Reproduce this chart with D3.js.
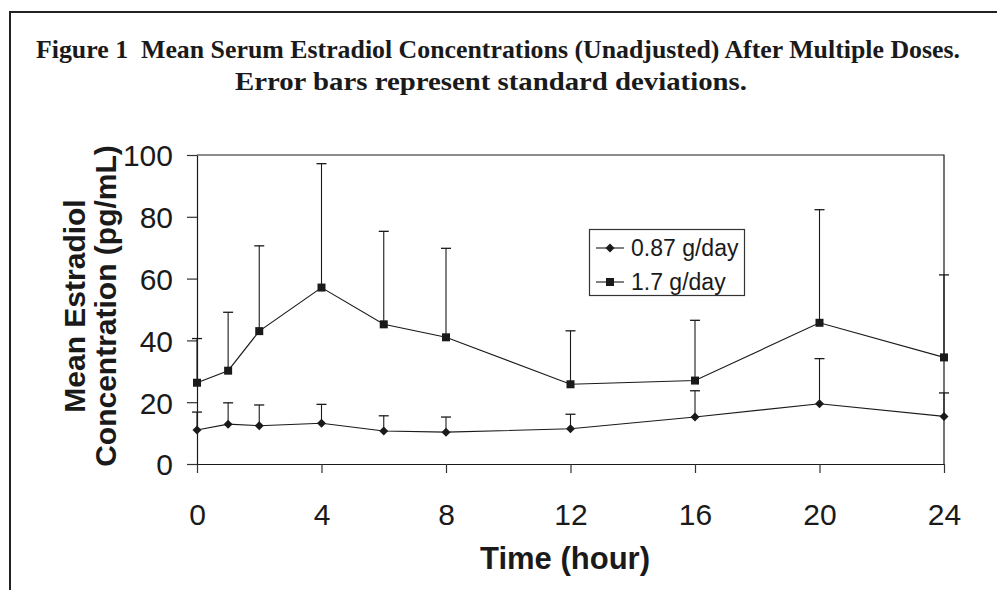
<!DOCTYPE html>
<html>
<head>
<meta charset="utf-8">
<script src="https://cdn.jsdelivr.net/npm/d3@7"></script>
<style>
  html, body { margin: 0; padding: 0; background: #fff; }
  svg { display: block; }
</style>
</head>
<body>
<svg id="chart" width="997" height="590"></svg>
<script>
// ---- data ----
const titleLines = [
  "Figure 1\u00a0 Mean Serum Estradiol Concentrations (Unadjusted) After Multiple Doses.",
  "Error bars represent standard deviations."
];
const times = [0, 1, 2, 4, 6, 8, 12, 16, 20, 24];
const seriesNames = ["0.87 g/day", "1.7 g/day"];
const meanLow  = [11.0, 12.9, 12.4, 13.2, 10.7, 10.3, 11.4, 15.2, 19.5, 15.4];
const sdLow    = [5.8, 6.9, 6.7, 6.1, 4.9, 4.9, 4.7, 8.5, 14.6, 7.6];
const meanHigh = [26.3, 30.2, 43.0, 57.1, 45.2, 41.0, 25.8, 27.0, 45.7, 34.5];
const sdHigh   = [14.3, 18.9, 27.6, 40.1, 30.1, 28.8, 17.3, 19.5, 36.6, 26.7];
const xTicks = [0, 4, 8, 12, 16, 20, 24];
const yTicks = [0, 20, 40, 60, 80, 100];
const xLabel = "Time (hour)";
const yLabelLines = ["Mean Estradiol", "Concentration (pg/mL)"];

(function () {
// ---- layout ----
const svg = d3.select("#chart");
const pL = 197, pR = 944, pT = 155, pB = 464;
const x = d3.scaleLinear().domain([0, 24]).range([pL, pR]);
const y = d3.scaleLinear().domain([0, 100]).range([pB, pT]);
const ink = "#1a1a1a";
const sans = "Arial, 'Liberation Sans', sans-serif";

// frame
svg.append("path")
  .attr("d", "M10,590 L10,12 L997,12")
  .attr("fill", "none").attr("stroke", "#222").attr("stroke-width", 2);

// title
const tBase = [58, 90];
const tX = [498, 491];
const tLen = [924, 512];
titleLines.forEach((t, i) => svg.append("text")
    .attr("x", tX[i]).attr("y", tBase[i])
    .attr("text-anchor", "middle")
    .attr("font-family", "'Liberation Serif', 'Times New Roman', serif")
    .attr("font-weight", "bold")
    .attr("font-size", 26)
    .attr("textLength", tLen[i])
    .attr("lengthAdjust", "spacingAndGlyphs")
    .attr("fill", ink)
    .text(t));

// plot border (top + right)
svg.append("path")
  .attr("d", `M${pL},${pT} L${pR},${pT} L${pR},${pB}`)
  .attr("fill", "none").attr("stroke", ink).attr("stroke-width", 1.2);

// axes
const xAxis = d3.axisBottom(x).tickValues(xTicks).tickSize(9).tickSizeOuter(0).tickFormat(d3.format("d"));
const yAxis = d3.axisLeft(y).tickValues(yTicks).tickSize(10).tickSizeOuter(0).tickFormat(d3.format("d"));

const gx = svg.append("g").attr("transform", `translate(0,${pB})`).call(xAxis);
const gy = svg.append("g").attr("transform", `translate(${pL},0)`).call(yAxis);
[gx, gy].forEach(g => {
  g.select(".domain").attr("stroke", ink).attr("stroke-width", 1.2);
  g.selectAll(".tick line").attr("stroke", "#333").attr("stroke-width", 1.2);
  g.selectAll(".tick text")
    .attr("font-family", sans)
    .attr("font-size", 30).attr("fill", ink);
});
gx.selectAll(".tick text").attr("y", 0).attr("dy", 0).attr("transform", "translate(0,61)");
gy.selectAll(".tick text").attr("x", -24).attr("dy", "0.36em");

// axis titles
svg.append("text")
  .attr("x", 565).attr("y", 569)
  .attr("text-anchor", "middle")
  .attr("font-family", sans)
  .attr("font-weight", "bold").attr("font-size", 31).attr("fill", ink)
  .text(xLabel);
const yLabX = [85, 116];
yLabelLines.forEach((t, i) => {
  svg.append("text")
    .attr("transform", `translate(${yLabX[i]},306) rotate(-90)`)
    .attr("text-anchor", "middle")
    .attr("font-family", sans)
    .attr("font-weight", "bold").attr("font-size", 30).attr("fill", ink)
    .text(t);
});

// series
const series = [
  { name: seriesNames[0], mean: meanLow, sd: sdLow, shape: "diamond" },
  { name: seriesNames[1], mean: meanHigh, sd: sdHigh, shape: "square" }
];

const cap = 5;
series.forEach(s => {
  const g = svg.append("g");
  times.forEach((t, i) => {
    const cx = x(t), y0 = y(s.mean[i]), y1 = y(s.mean[i] + s.sd[i]);
    g.append("line").attr("x1", cx).attr("x2", cx).attr("y1", y0).attr("y2", y1)
      .attr("stroke", ink).attr("stroke-width", 1.1);
    g.append("line").attr("x1", cx - cap).attr("x2", cx + cap).attr("y1", y1).attr("y2", y1)
      .attr("stroke", ink).attr("stroke-width", 1.3);
  });
});

const line = d3.line().x(d => x(d[0])).y(d => y(d[1]));
function marker(sel, shape, cx, cy) {
  if (shape === "square") {
    sel.append("rect").attr("x", cx - 4).attr("y", cy - 4).attr("width", 8).attr("height", 8).attr("fill", ink);
  } else {
    sel.append("path").attr("d", `M${cx},${cy - 4.5} L${cx + 4.5},${cy} L${cx},${cy + 4.5} L${cx - 4.5},${cy} Z`).attr("fill", ink);
  }
}
series.forEach(s => {
  const pts = times.map((t, i) => [t, s.mean[i]]);
  svg.append("path").attr("d", line(pts)).attr("fill", "none").attr("stroke", ink).attr("stroke-width", 1.1);
  const g = svg.append("g");
  pts.forEach(p => marker(g, s.shape, x(p[0]), y(p[1])));
});

// legend
const lg = svg.append("g");
lg.append("rect").attr("x", 589.5).attr("y", 229.5).attr("width", 155).attr("height", 66)
  .attr("fill", "#fff").attr("stroke", "#333").attr("stroke-width", 1.2);
const rowY = [248, 282];
series.forEach((s, i) => {
  lg.append("line").attr("x1", 596).attr("x2", 624).attr("y1", rowY[i]).attr("y2", rowY[i])
    .attr("stroke", ink).attr("stroke-width", 1.1);
  marker(lg, s.shape, 610, rowY[i]);
  lg.append("text").attr("x", 631).attr("y", rowY[i]).attr("dy", "0.36em")
    .attr("font-family", sans)
    .attr("font-size", 23).attr("fill", ink)
    .text(s.name);
});
})();
</script>
</body>
</html>
